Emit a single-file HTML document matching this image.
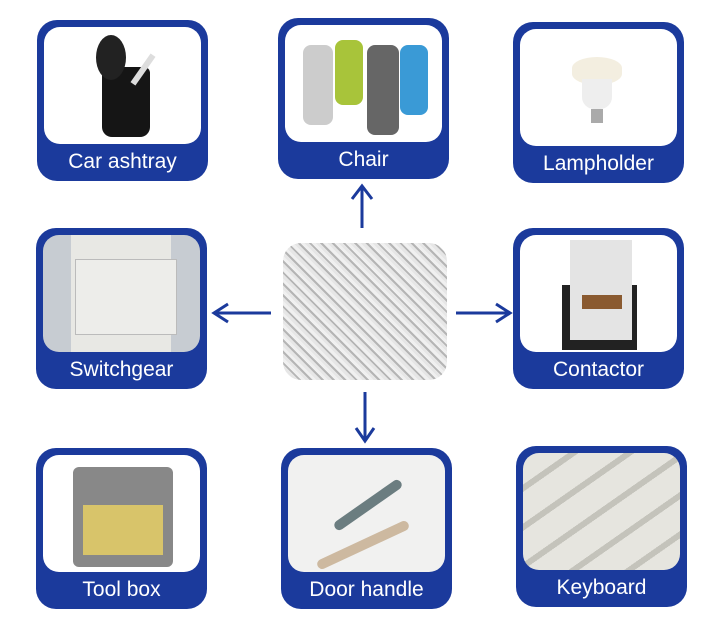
<!DOCTYPE html>
<html><head><meta charset="utf-8"><style>
body{margin:0;width:720px;height:632px;background:#fff;position:relative;overflow:hidden;font-family:"Liberation Sans","DejaVu Sans",sans-serif}
.c{position:absolute;width:171px;height:161px;background:#1b3a9c;border-radius:20px}
.i{position:absolute;left:7px;top:7px;right:7px;height:117px;background:#fff;border-radius:16px;overflow:hidden}
.l{position:absolute;left:0;right:0;bottom:6px;text-align:center;color:#fff;font-size:21px;line-height:26px}
.a{position:absolute}
</style></head><body>
<div class="c" style="left:37px;top:20px"><div class="i">
<div class="a" style="left:58px;top:40px;width:48px;height:70px;background:#151515;border-radius:6px 6px 10px 10px"></div>
<div class="a" style="left:52px;top:8px;width:30px;height:45px;background:#222;border-radius:50%"></div>
<div class="a" style="left:96px;top:25px;width:6px;height:35px;background:#ddd;transform:rotate(35deg)"></div>
</div><div class="l">Car ashtray</div></div>

<div class="c" style="left:278px;top:18px"><div class="i">
<div class="a" style="left:18px;top:20px;width:30px;height:80px;background:#ccc;border-radius:8px"></div>
<div class="a" style="left:50px;top:15px;width:28px;height:65px;background:#a8c43a;border-radius:8px"></div>
<div class="a" style="left:82px;top:20px;width:32px;height:90px;background:#666;border-radius:8px"></div>
<div class="a" style="left:115px;top:20px;width:28px;height:70px;background:#3a9ad6;border-radius:8px"></div>
</div><div class="l">Chair</div></div>

<div class="c" style="left:513px;top:22px"><div class="i">
<div class="a" style="left:52px;top:28px;width:50px;height:28px;background:#f3eee0;border-radius:50%/40%"></div>
<div class="a" style="left:62px;top:50px;width:30px;height:30px;background:#eee;border-radius:0 0 40% 40%"></div>
<div class="a" style="left:71px;top:80px;width:12px;height:14px;background:#aaa"></div>
</div><div class="l">Lampholder</div></div>

<div class="c" style="left:36px;top:228px"><div class="i" style="background:#c7ccd2">
<div class="a" style="left:28px;top:0;width:100px;height:117px;background:#e8e8e4"></div>
<div class="a" style="left:32px;top:24px;width:100px;height:74px;background:#ededea;border:1px solid #bbb"></div>
</div><div class="l">Switchgear</div></div>

<div class="c" style="left:513px;top:228px"><div class="i">
<div class="a" style="left:42px;top:50px;width:75px;height:65px;background:#222"></div>
<div class="a" style="left:50px;top:5px;width:62px;height:100px;background:#e4e4e4"></div>
<div class="a" style="left:62px;top:60px;width:40px;height:14px;background:#8a5a30"></div>
</div><div class="l">Contactor</div></div>

<div class="a" style="left:283px;top:243px;width:164px;height:137px;border-radius:18px;background:repeating-linear-gradient(45deg,#e6e6e6 0 3px,#b5b5b5 3px 5px,#f0f0f0 5px 8px)"></div>

<div class="c" style="left:36px;top:448px"><div class="i">
<div class="a" style="left:30px;top:12px;width:100px;height:100px;background:#888;border-radius:6px"></div>
<div class="a" style="left:40px;top:50px;width:80px;height:50px;background:#d8c46a"></div>
</div><div class="l">Tool box</div></div>

<div class="c" style="left:281px;top:448px"><div class="i" style="background:#f1f1f0">
<div class="a" style="left:40px;top:45px;width:80px;height:10px;background:#6b7d80;transform:rotate(-35deg);border-radius:5px"></div>
<div class="a" style="left:25px;top:85px;width:100px;height:10px;background:#cdb9a0;transform:rotate(-25deg);border-radius:5px"></div>
</div><div class="l">Door handle</div></div>

<div class="c" style="left:516px;top:446px"><div class="i" style="background:repeating-linear-gradient(-35deg,#e6e5df 0 26px,#c4c3bb 26px 32px)"></div><div class="l">Keyboard</div></div>

<svg class="a" style="left:0;top:0" width="720" height="632">
<g stroke="#1b3a9c" stroke-width="3" fill="none">
<line x1="362" y1="228" x2="362" y2="187"/><polyline points="352,199 362,186 372,199"/>
<line x1="271" y1="313" x2="215" y2="313"/><polyline points="228,304 214,313 228,322"/>
<line x1="456" y1="313" x2="509" y2="313"/><polyline points="496,304 510,313 496,322"/>
<line x1="365" y1="392" x2="365" y2="440"/><polyline points="356,428 365,441 374,428"/>
</g></svg>
</body></html>
